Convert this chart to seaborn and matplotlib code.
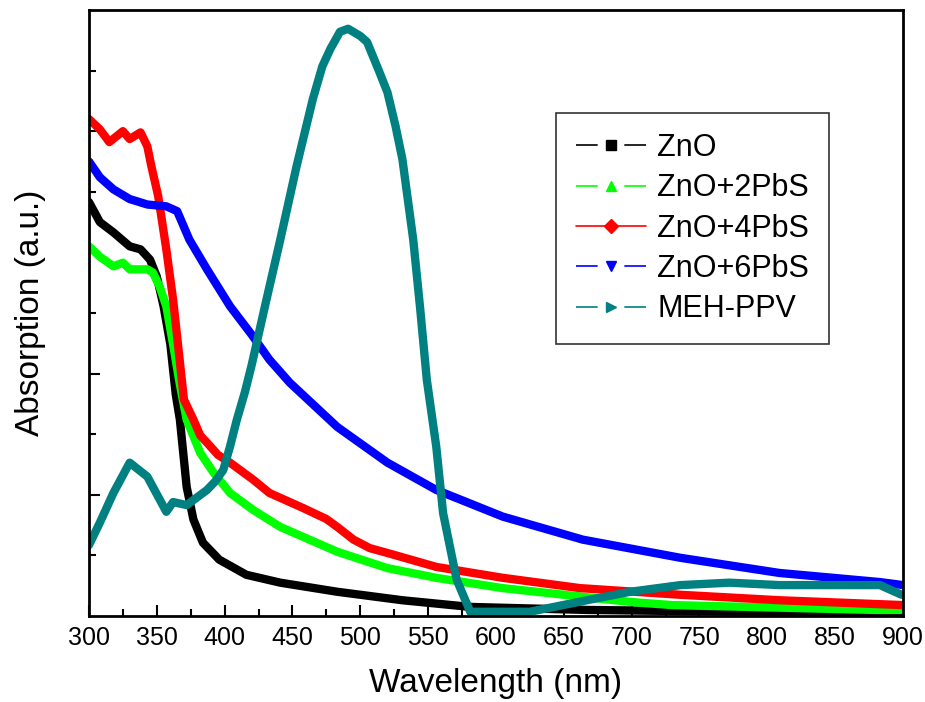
import numpy as np
import pandas as pd
import matplotlib
matplotlib.use('Agg')
import matplotlib.pyplot as plt
import seaborn as sns
from matplotlib.lines import Line2D
from matplotlib.ticker import MultipleLocator

# -------------------------------
# Data (wavelength in nm, absorption in a.u.)
# -------------------------------
wl_zno = [300, 308, 318, 330, 338, 345, 350, 355, 360, 364, 367, 372, 377, 384,
          396, 416, 441, 483, 531, 581, 667, 780, 900]
abs_zno = [0.683, 0.650, 0.633, 0.610, 0.605, 0.588, 0.560, 0.511, 0.448, 0.365,
           0.324, 0.213, 0.159, 0.121, 0.093, 0.068, 0.055, 0.040, 0.026, 0.015,
           0.010, 0.007, 0.005]

wl_2pbs = [300, 308, 318, 325, 330, 343, 347, 352, 357, 362, 367, 372, 382, 392,
           404, 421, 441, 483, 520, 556, 605, 667, 700, 730, 880, 900]
abs_2pbs = [0.610, 0.593, 0.577, 0.583, 0.572, 0.572, 0.567, 0.544, 0.511, 0.448,
            0.382, 0.324, 0.269, 0.236, 0.203, 0.175, 0.147, 0.106, 0.079, 0.063,
            0.046, 0.031, 0.023, 0.018, 0.010, 0.010]

wl_4pbs = [300, 308, 315, 325, 330, 338, 343, 346, 351, 357, 362, 366, 370, 377,
           382, 387, 395, 404, 421, 433, 458, 475, 483, 495, 507, 520, 556, 605,
           662, 736, 809, 900]
abs_4pbs = [0.820, 0.803, 0.782, 0.800, 0.787, 0.798, 0.775, 0.742, 0.693, 0.605,
            0.522, 0.440, 0.357, 0.324, 0.298, 0.286, 0.266, 0.253, 0.225, 0.203,
            0.178, 0.160, 0.147, 0.126, 0.112, 0.104, 0.081, 0.063, 0.046, 0.035,
            0.026, 0.018]

wl_6pbs = [300, 308, 318, 330, 343, 357, 365, 374, 387, 404, 420, 433, 448, 483,
           520, 556, 605, 664, 736, 809, 883, 900]
abs_6pbs = [0.750, 0.724, 0.704, 0.688, 0.679, 0.676, 0.668, 0.621, 0.572, 0.511,
            0.464, 0.423, 0.385, 0.312, 0.253, 0.208, 0.164, 0.126, 0.096, 0.071,
            0.056, 0.051]

wl_meh = [300, 308, 318, 330, 343, 357, 362, 372, 387, 393, 399, 404, 409, 415,
          420, 430, 441, 453, 465, 472, 478, 485, 491, 500, 505, 514, 520, 526,
          531, 539, 544, 549, 556, 561, 571, 581, 625, 667, 699, 736, 772, 809,
          846, 883, 899]
abs_meh = [0.117, 0.154, 0.203, 0.253, 0.230, 0.172, 0.188, 0.183, 0.208, 0.222,
           0.241, 0.280, 0.324, 0.370, 0.415, 0.514, 0.621, 0.742, 0.853, 0.907,
           0.936, 0.964, 0.969, 0.957, 0.947, 0.898, 0.864, 0.808, 0.754, 0.621,
           0.510, 0.390, 0.279, 0.170, 0.060, 0.007, 0.007, 0.026, 0.040, 0.051,
           0.055, 0.051, 0.051, 0.051, 0.035]

names = ['ZnO', 'ZnO+2PbS', 'ZnO+4PbS', 'ZnO+6PbS', 'MEH-PPV']
colors = ['#000000', '#00FF00', '#FF0000', '#0000FF', '#008080']
markers = ['s', '^', 'D', 'v', '>']

series = [(wl_zno, abs_zno), (wl_2pbs, abs_2pbs), (wl_4pbs, abs_4pbs),
          (wl_6pbs, abs_6pbs), (wl_meh, abs_meh)]
df = pd.concat([pd.DataFrame({'wl': w, 'abs': a, 'sample': n})
                for n, (w, a) in zip(names, series)], ignore_index=True)

# -------------------------------
# Plot
# -------------------------------
sns.set_style("ticks")
plt.rcParams['font.family'] = ['Liberation Sans', 'DejaVu Sans']
for k in ['text.color', 'axes.labelcolor', 'xtick.color', 'ytick.color']:
    plt.rcParams[k] = 'black'

fig = plt.figure(figsize=(9.25, 7.02), dpi=100)
ax = fig.add_axes([0.0962, 0.1225, 0.88, 0.8633])

sns.lineplot(data=df, x='wl', y='abs', hue='sample', hue_order=names,
             palette=colors, estimator=None, sort=False, linewidth=6,
             solid_joinstyle='round', legend=False, ax=ax)

ax.set_xlim(300, 900)
ax.set_ylim(0, 1.0)
ax.set_xticks(np.arange(300, 901, 50))
ax.xaxis.set_minor_locator(MultipleLocator(25))
ax.set_yticks([0.2, 0.4, 0.6, 0.8])
ax.set_yticks([0.1, 0.3, 0.5, 0.7, 0.9], minor=True)
ax.tick_params(which='both', direction='in', width=1.5, top=False, right=False,
               labelleft=False, labelsize=18, pad=7)
ax.tick_params(which='major', length=8)
ax.tick_params(which='minor', length=5)
for s in ax.spines.values():
    s.set_linewidth(2)
    s.set_color('black')

ax.set_xlabel('Wavelength (nm)', fontsize=24, labelpad=13)
ax.set_ylabel('Absorption (a.u.)', fontsize=24, labelpad=31)

# legend in Origin style: line - marker - line
handles = []
for n, c, m in zip(names, colors, markers):
    ls = '-' if n == 'ZnO+4PbS' else (0, (13, 16, 13, 100))
    handles.append(Line2D([], [], color=c, marker=m, markersize=7, lw=1.2,
                          linestyle=ls))
leg = ax.legend(handles, names, loc='upper right', bbox_to_anchor=(0.909, 0.830),
                borderaxespad=0, fontsize=22, frameon=True, fancybox=False,
                edgecolor='black', handlelength=2.3, handletextpad=0.35,
                labelspacing=0.34, borderpad=0.65)
leg.get_frame().set_linewidth(1.2)

fig.savefig('out.png', dpi=100)
